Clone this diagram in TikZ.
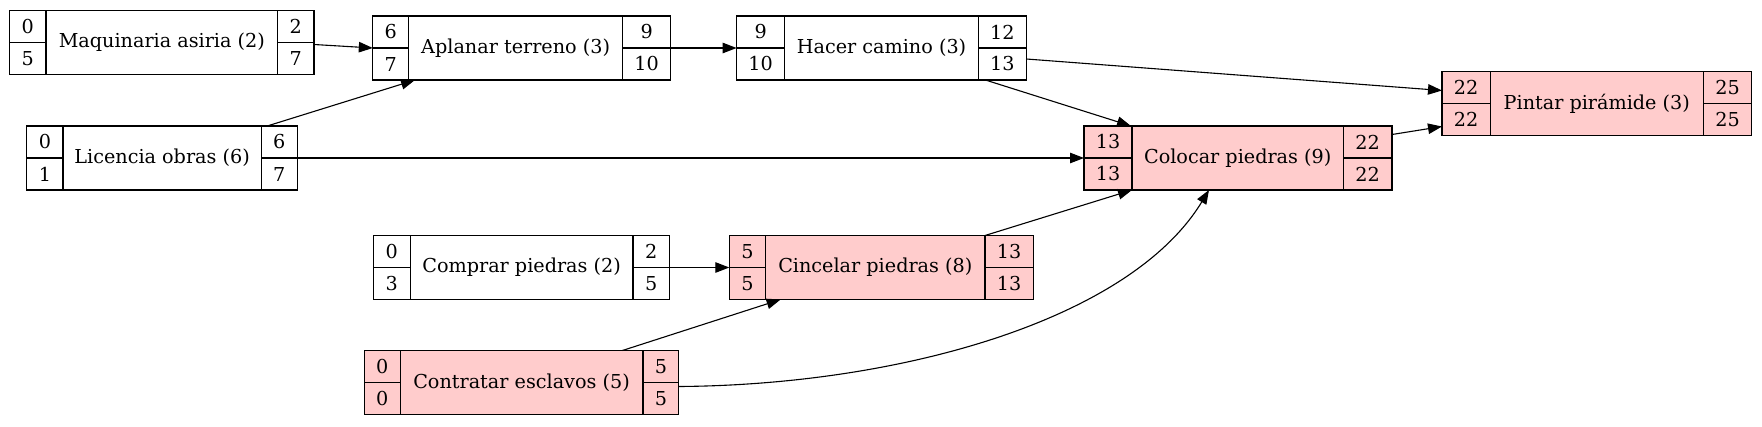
\documentclass[tikz,border=0pt]{standalone}
\usepackage{fontspec}
\setmainfont{DejaVu Serif}
\usetikzlibrary{arrows.meta}
\definecolor{critfill}{HTML}{FFCCCC}
\tikzset{
  cell/.style={draw=black, line width=1.2pt, inner sep=0pt, outer sep=0pt, anchor=north west,
    font=\fontsize{19.2}{22}\selectfont},
  edge/.style={draw=black, line width=1.1pt, -{Triangle[length=14pt,width=10.5pt]}},
}
% #1 name, #2 x, #3 y (top-left, px), #4 left width, #5 middle width, #6 right width,
% #7 fill colour, #8 label, #9 ES ; then {LS}{EF}{LF}
\newcommand\rec[9]{%
  \def\RecN{#1}\def\RecX{#2}\def\RecY{#3}\def\RecLW{#4}\def\RecMW{#5}\def\RecRW{#6}%
  \def\RecFill{#7}\def\RecLab{#8}\def\RecES{#9}\RecB}
\newcommand\RecB[3]{%
  \node[cell,fill=\RecFill,minimum width=\RecLW pt,minimum height=32pt] (\RecN-es) at (\RecX,\RecY) {\RecES};
  \node[cell,fill=\RecFill,minimum width=\RecLW pt,minimum height=32pt] (\RecN-ls) at (\RecN-es.south west) {#1};
  \node[cell,fill=\RecFill,minimum width=\RecMW pt,minimum height=64pt] (\RecN-m) at (\RecN-es.north east) {\RecLab};
  \node[cell,fill=\RecFill,minimum width=\RecRW pt,minimum height=32pt] (\RecN-ef) at (\RecN-m.north east) {#2};
  \node[cell,fill=\RecFill,minimum width=\RecRW pt,minimum height=32pt] (\RecN-lf) at (\RecN-ef.south west) {#3};
}
\begin{document}
\begin{tikzpicture}[x=1pt,y=-1pt]
\fill[white] (0,0) rectangle (1762,426);
\useasboundingbox (0,0) rectangle (1762,426);

\rec{maq}{9.5}{10.5}{36.5}{231.7}{36.3}{white}{Maquinaria asiria (2)}{0}{5}{2}{7}
\rec{apl}{372.8}{16}{35.7}{214.3}{47.7}{white}{Aplanar terreno (3)}{6}{7}{9}{10}
\rec{hac}{736.6}{16}{48.1}{193.7}{48}{white}{Hacer camino (3)}{9}{10}{12}{13}
\rec{lic}{26.8}{126}{36.2}{198.2}{36.1}{white}{Licencia obras (6)}{0}{1}{6}{7}
\rec{col}{1084}{126}{48}{211.4}{48.6}{critfill}{Colocar piedras (9)}{13}{13}{22}{22}
\rec{pin}{1442}{71.5}{48.3}{213}{48.4}{critfill}{Pintar pirámide (3)}{22}{22}{25}{25}
\rec{com}{373.5}{235.5}{36.7}{222.8}{36.7}{white}{Comprar piedras (2)}{0}{3}{2}{5}
\rec{cin}{729.3}{235.5}{36.3}{219.4}{48.3}{critfill}{Cincelar piedras (8)}{5}{5}{13}{13}
\rec{con}{364.3}{350.5}{35.8}{242.9}{35.8}{critfill}{Contratar esclavos (5)}{0}{0}{5}{5}

\draw[edge] ([yshift=-2pt]maq-lf.north east) -- (apl-ls.north west);
\draw[edge] ([xshift=6pt]lic-ef.north west) -- ([xshift=6.5pt]apl-ls.south east);
\draw[edge] (lic-ef.south east) -- (col-es.south west);
\draw[edge] (apl-ef.south east) -- (hac-es.south west);
\draw[edge] ([yshift=-11pt]hac-lf.north east) -- ([yshift=13pt]pin-ls.north west);
\draw[edge] ([xshift=7pt]hac-lf.south west) -- ([xshift=-1pt]col-es.north east);
\draw[edge] ([yshift=-8.5pt]col-ef.north east) -- ([yshift=9pt]pin-ls.south west);
\draw[edge] (com-ef.south east) -- (cin-es.south west);
\draw[edge] ([xshift=-20.6pt]con-ef.north west) -- ([xshift=15pt]cin-ls.south east);
\draw[edge] (cin-ef.north west) -- (col-ls.south east);
\draw[edge] ([yshift=-4pt]con-lf.north east) .. controls (900,385) and (1130,320) .. ([xshift=77pt]col-m.south west);
\end{tikzpicture}
\end{document}
